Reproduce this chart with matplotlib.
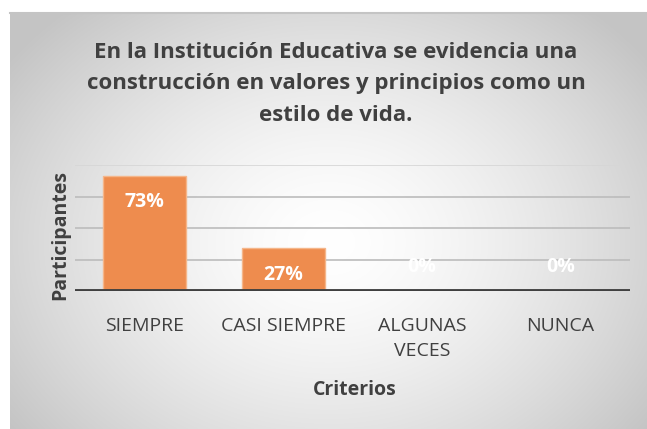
import numpy as np
import matplotlib
matplotlib.use("Agg")
import matplotlib.pyplot as plt
from matplotlib import font_manager

categories = ["SIEMPRE", "CASI SIEMPRE", "ALGUNAS\nVECES", "NUNCA"]
values = [0.73, 0.27, 0.0, 0.0]
labels = ["73%", "27%", "0%", "0%"]
title = "En la Institución Educativa se evidencia una\nconstrucción en valores y principios como un\nestilo de vida."
xlabel = "Criterios"
ylabel = "Participantes"

avail = {f.name for f in font_manager.fontManager.ttflist}
fam = None
for cand in ["Liberation Sans Narrow", "Open Sans", "Lato", "DejaVu Sans"]:
    if cand in avail:
        fam = cand
        break
plt.rcParams['font.family'] = [fam, 'DejaVu Sans']

W, H = 647, 429
fig = plt.figure(figsize=(W/100, H/100), dpi=100)
fig.patch.set_facecolor('white')

# background gradient panel
bg = fig.add_axes([10/W, 0, (W-10)/W, (H-13)/H], zorder=-5)
ny, nx = 300, 450
yy, xx = np.mgrid[0:ny, 0:nx]
cx, cy = nx*0.5, ny*0.55
r = np.sqrt(((xx-cx)/(nx*0.62))**2 + ((yy-cy)/(ny*0.75))**2)
r = np.clip(r, 0, 1)
g = 1.0 - 0.23*r**1.5
img = np.dstack([g, g, g])
bg.imshow(img, aspect='auto', extent=[0, 1, 0, 1], interpolation='bilinear')
bg.axis('off')
bg.plot([0, 1], [1, 1], color='#c4c4c4', lw=1.5, transform=bg.transAxes, clip_on=False)

ax = fig.add_axes([75/W, (H-291)/H, (630-75)/W, (291-165)/H])
ax.set_facecolor('none')
x = np.arange(len(categories))
bars = ax.bar(x, values, width=0.6, color='#EE8C4E', edgecolor='#F5B68A', linewidth=1, zorder=3)
ax.set_xlim(-0.5, len(categories)-0.5)
ax.set_ylim(0, 0.8)
ax.set_yticks([0.2, 0.4, 0.6, 0.8])
ax.yaxis.grid(True, color='#bcbcbc', linewidth=1.2, zorder=0)
ax.get_ygridlines()[-1].set_color('#d6d6d6')
ax.set_axisbelow(True)
ax.tick_params(axis='y', left=False, labelleft=False)
for s in ax.spines.values():
    s.set_visible(False)
ax.axhline(0, color='#404040', linewidth=3.5, zorder=4)
ax.set_xticks(x)
ax.set_xticklabels(categories, fontsize=14, color='#404040', linespacing=1.55, va='top')
ax.tick_params(axis='x', bottom=False, pad=15)

for xi, v, lab in zip(x, values, labels):
    off = -19 if v > 0 else 17
    ax.annotate(lab, (xi, v), xytext=(0, off), textcoords='offset points',
                ha='center', va='center', color='white', fontsize=14, fontweight='bold', zorder=5)

fig.text(336/W, 1-84/H, title, ha='center', va='center', fontsize=16, fontweight='bold',
         color='#404040', linespacing=1.65)
fig.text(60/W, 1-235/H, ylabel, ha='center', va='center', rotation=90, fontsize=14,
         fontweight='bold', color='#404040')
fig.text(355/W, 1-390/H, xlabel, ha='center', va='center', fontsize=14,
         fontweight='bold', color='#404040')

fig.savefig('out.png', dpi=100)
